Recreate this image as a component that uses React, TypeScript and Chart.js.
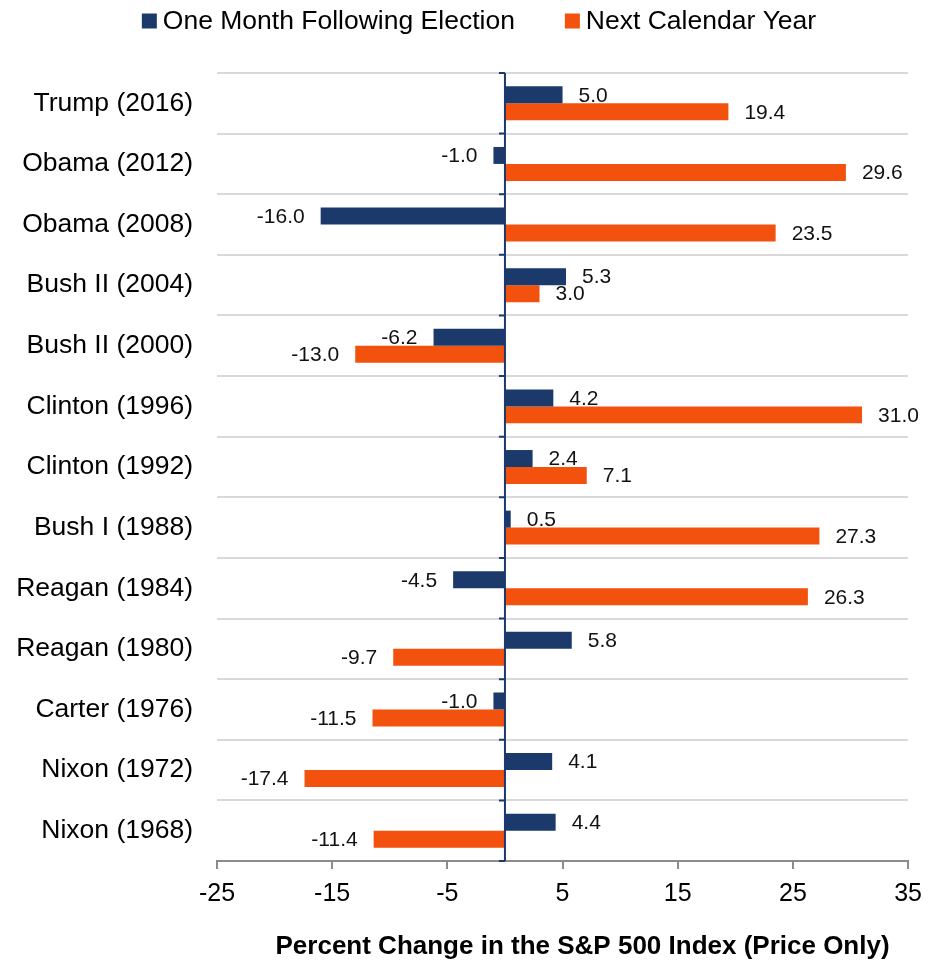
import React, { useEffect, useRef } from "react";
import { Chart, registerables } from "chart.js";

Chart.register(...registerables);

const categories = [
  "Trump (2016)",
  "Obama (2012)",
  "Obama (2008)",
  "Bush II (2004)",
  "Bush II (2000)",
  "Clinton (1996)",
  "Clinton (1992)",
  "Bush I (1988)",
  "Reagan (1984)",
  "Reagan (1980)",
  "Carter (1976)",
  "Nixon (1972)",
  "Nixon (1968)",
];
const oneMonth = [5.0, -1.0, -16.0, 5.3, -6.2, 4.2, 2.4, 0.5, -4.5, 5.8, -1.0, 4.1, 4.4];
const nextYear = [19.4, 29.6, 23.5, 3.0, -13.0, 31.0, 7.1, 27.3, 26.3, -9.7, -11.5, -17.4, -11.4];
const seriesNames = ["One Month Following Election", "Next Calendar Year"];
const xTicks = [-25, -15, -5, 5, 15, 25, 35];
const axisTitle = "Percent Change in the S&P 500 Index (Price Only)";

const NAVY = "#1b3a6b";
const ORANGE = "#f2520e";
const FONT = "'Liberation Sans', Arial, Helvetica, sans-serif";

const zeroLinePlugin = {
  id: "zeroLine",
  afterDatasetsDraw(chart: any) {
    const { ctx, chartArea, scales } = chart;
    const x0 = scales.x.getPixelForValue(0);
    ctx.save();
    ctx.strokeStyle = NAVY;
    ctx.lineWidth = 2;
    ctx.beginPath();
    ctx.moveTo(x0, chartArea.top);
    ctx.lineTo(x0, chartArea.bottom);
    const n = categories.length;
    const h = (chartArea.bottom - chartArea.top) / n;
    for (let i = 0; i <= n; i++) {
      const y = chartArea.top + i * h;
      ctx.moveTo(x0 - 6, y);
      ctx.lineTo(x0, y);
    }
    ctx.stroke();
    ctx.restore();
  },
};

const dataLabelPlugin = {
  id: "dataLabels",
  afterDatasetsDraw(chart: any) {
    const { ctx } = chart;
    ctx.save();
    ctx.font = `21px ${FONT}`;
    ctx.fillStyle = "#111";
    ctx.textBaseline = "middle";
    chart.data.datasets.forEach((ds: any, di: number) => {
      const meta = chart.getDatasetMeta(di);
      meta.data.forEach((el: any, i: number) => {
        const v = ds.data[i];
        const txt = v.toFixed(1);
        if (v >= 0) {
          ctx.textAlign = "left";
          ctx.fillText(txt, el.x + 16, el.y + 1);
        } else {
          ctx.textAlign = "right";
          ctx.fillText(txt, el.x - 16, el.y + 1);
        }
      });
    });
    ctx.restore();
  },
};

const titleAndLegendPlugin = {
  id: "titleLegend",
  afterDraw(chart: any) {
    const { ctx, chartArea } = chart;
    ctx.save();
    // axis title
    ctx.font = `bold 26px ${FONT}`;
    ctx.fillStyle = "#000";
    ctx.textAlign = "center";
    ctx.textBaseline = "middle";
    ctx.fillText(axisTitle, (chartArea.left + chartArea.right) / 2 + 20, chartArea.bottom + 86);

    // legend
    ctx.font = `26.5px ${FONT}`;
    const box = 15;
    const gap = 6;
    const spacing = 50;
    const colors = [NAVY, ORANGE];
    const widths = seriesNames.map((s) => ctx.measureText(s).width);
    const total = widths.reduce((a, w) => a + box + gap + w, 0) + spacing * (seriesNames.length - 1);
    let x = chart.width / 2 + 9 - total / 2;
    const y = 13;
    ctx.textAlign = "left";
    seriesNames.forEach((s, i) => {
      ctx.fillStyle = colors[i];
      ctx.fillRect(x, y - box / 2, box, box);
      ctx.fillStyle = "#000";
      ctx.fillText(s, x + box + gap, y + 1);
      x += box + gap + widths[i] + spacing;
    });
    ctx.restore();
  },
};

export default function App() {
  const canvasRef = useRef<HTMLCanvasElement | null>(null);

  useEffect(() => {
    if (!canvasRef.current) return;
    const chart = new Chart(canvasRef.current, {
      type: "bar",
      data: {
        labels: categories,
        datasets: [
          {
            label: seriesNames[0],
            data: oneMonth,
            backgroundColor: NAVY,
            categoryPercentage: 0.56,
            barPercentage: 1.0,
          },
          {
            label: seriesNames[1],
            data: nextYear,
            backgroundColor: ORANGE,
            categoryPercentage: 0.56,
            barPercentage: 1.0,
          },
        ],
      },
      options: {
        indexAxis: "y",
        responsive: true,
        maintainAspectRatio: false,
        animation: false,
        layout: { padding: { top: 65, right: 23, left: 0, bottom: 0 } },
        plugins: {
          legend: { display: false },
          tooltip: { enabled: false },
        },
        scales: {
          x: {
            type: "linear",
            min: -25,
            max: 35,
            afterBuildTicks: (scale: any) => {
              scale.ticks = xTicks.map((v) => ({ value: v }));
            },
            afterFit: (scale: any) => {
              scale.height = 104;
            },
            grid: {
              drawOnChartArea: false,
              drawTicks: true,
              tickLength: 8,
              color: "#8c8c8c",
              lineWidth: 2,
            },
            border: { display: true, color: "#8c8c8c", width: 2 },
            ticks: {
              color: "#000",
              font: { family: FONT, size: 25 },
              padding: 10,
              maxRotation: 0,
              autoSkip: false,
            },
          },
          y: {
            type: "category",
            afterFit: (scale: any) => {
              scale.width = 209;
            },
            grid: {
              offset: true,
              color: "#d9d9d9",
              lineWidth: 2,
              drawTicks: false,
            },
            border: { display: false },
            ticks: {
              color: "#000",
              font: { family: FONT, size: 26.5 },
              padding: 24,
              autoSkip: false,
            },
          },
        },
      },
      plugins: [zeroLinePlugin, dataLabelPlugin, titleAndLegendPlugin],
    } as any);
    return () => chart.destroy();
  }, []);

  return (
    <div style={{ width: 924, height: 957, position: "relative" }}>
      <canvas ref={canvasRef} />
    </div>
  );
}
